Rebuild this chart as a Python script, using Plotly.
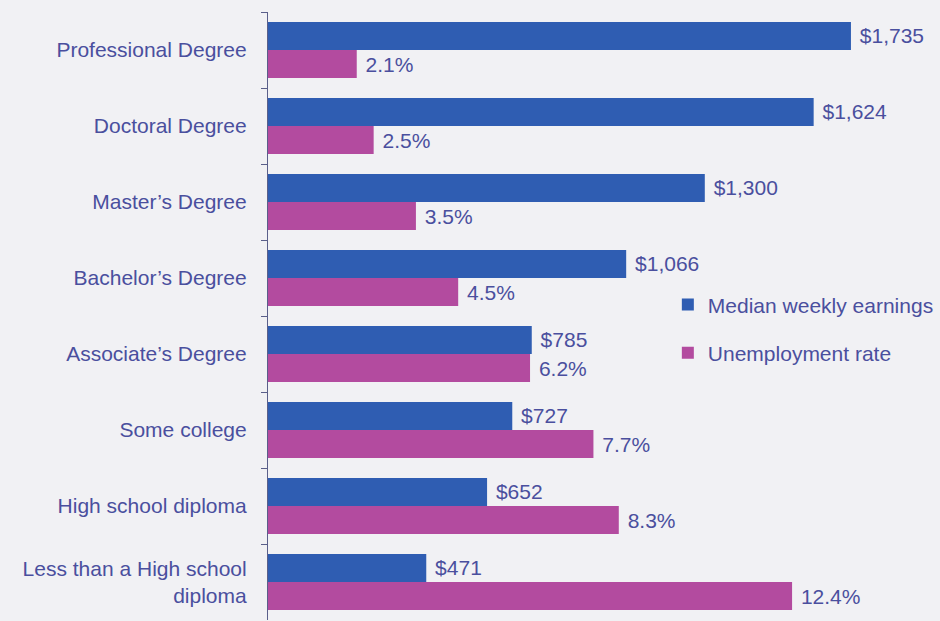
import plotly.graph_objects as go

# Education level, median weekly earnings ($) and unemployment rate (%)
categories = [
    "Professional Degree",
    "Doctoral Degree",
    "Master\u2019s Degree",
    "Bachelor\u2019s Degree",
    "Associate\u2019s Degree",
    "Some college",
    "High school diploma",
    "Less than a High school<br>diploma",
]
earnings = [1735, 1624, 1300, 1066, 785, 727, 652, 471]
unemployment = [2.1, 2.5, 3.5, 4.5, 6.2, 7.7, 8.3, 12.4]

# a non-breaking space keeps the value labels a little clear of the bar ends
earn_labels = [f"\u00a0${v:,}" for v in earnings]
rate_labels = [f"\u00a0{v:.1f}%" for v in unemployment]

BLUE = "#2f5db2"
MAGENTA = "#b34b9f"
TEXT = "#4a4f9e"
BG = "#f1f1f4"
FONT = "Liberation Sans, Arial, sans-serif"
FS = 21

BAR_W = 0.37

fig = go.Figure()
fig.add_trace(go.Bar(
    y=categories, x=earnings, orientation="h",
    name="Median weekly earnings", legendgroup="a",
    marker=dict(color=BLUE, line=dict(width=0)),
    width=BAR_W, offset=-BAR_W,
    text=earn_labels, textposition="outside", textangle=0,
    constraintext="none", cliponaxis=False,
    textfont=dict(color=TEXT, size=FS, family=FONT),
    xaxis="x", yaxis="y",
))
fig.add_trace(go.Bar(
    y=categories, x=unemployment, orientation="h",
    name="Unemployment rate", legendgroup="b",
    marker=dict(color=MAGENTA, line=dict(width=0)),
    width=BAR_W, offset=0,
    text=rate_labels, textposition="outside", textangle=0,
    constraintext="none", cliponaxis=False,
    textfont=dict(color=TEXT, size=FS, family=FONT),
    xaxis="x2", yaxis="y",
))

fig.update_layout(
    width=940, height=621,
    margin=dict(l=268, r=0, t=12, b=1),
    paper_bgcolor=BG, plot_bgcolor=BG,
    font=dict(family=FONT, size=FS, color=TEXT),
    barmode="overlay",
    showlegend=True,
    legend=dict(
        x=0.595, y=0.552, xanchor="left", yanchor="top",
        bgcolor="rgba(0,0,0,0)",
        font=dict(size=FS, color=TEXT, family=FONT),
        tracegroupgap=18,
    ),
    xaxis=dict(range=[0, 2000], visible=False, fixedrange=True),
    xaxis2=dict(range=[0, 15.9], overlaying="x", visible=False, fixedrange=True),
    yaxis=dict(
        autorange="reversed",
        showline=True, linecolor="#5a5f8a", linewidth=1.2,
        ticks="outside", ticklen=6, tickcolor="#5a5f8a",
        tickson="boundaries",
        ticklabelstandoff=16,
        showgrid=False, zeroline=False,
        tickfont=dict(size=FS, color=TEXT, family=FONT),
    ),
)

fig.write_html("out.html")
